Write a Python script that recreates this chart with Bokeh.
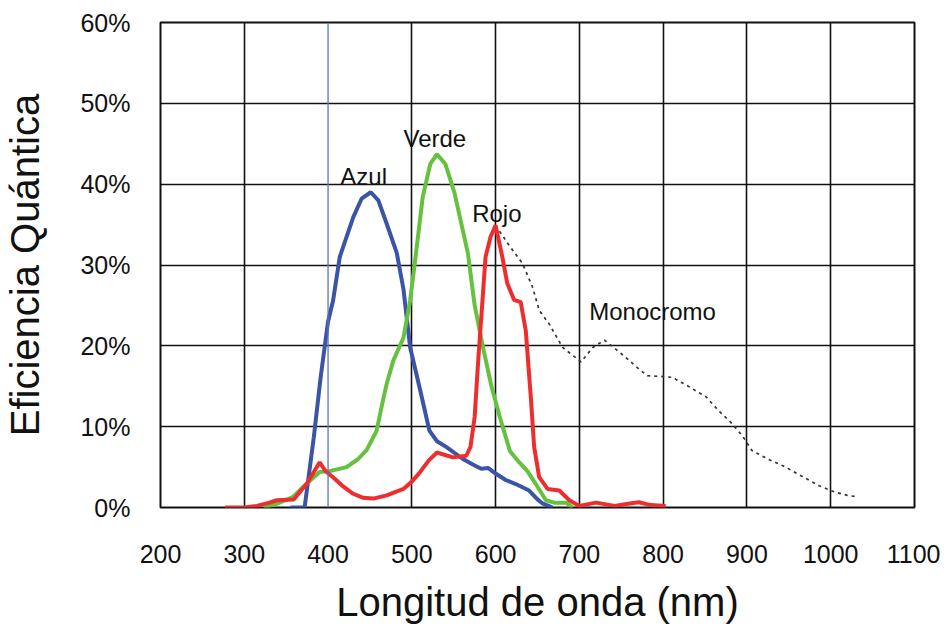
from bokeh.plotting import figure
from bokeh.models import FixedTicker, NumeralTickFormatter, Span, Label
from bokeh.embed import file_html
from bokeh.resources import INLINE

# Data (wavelength nm, quantum efficiency %)
azul_nm = [355, 372, 383, 391, 400, 406, 414, 430, 440, 451, 460, 470, 482, 490, 498, 510, 521, 530, 541, 561, 575, 583, 591, 600, 612, 624, 640, 650, 656, 668]
azul_qe = [0, 0, 8.7, 16, 23, 25.6, 31, 35.9, 38.2, 39, 38, 35.1, 31.5, 27, 19.8, 14.5, 9.5, 8.2, 7.5, 6, 5.2, 4.8, 4.9, 4.2, 3.4, 2.9, 2.1, 1.0, 0.5, 0]

verde_nm = [323, 340, 358, 375, 390, 402, 422, 436, 446, 458, 465, 470, 478, 490, 498, 505, 513, 522, 530, 540, 551, 567, 575, 585, 595, 605, 617, 628, 638, 648, 660, 670, 684, 692]
verde_qe = [0, 0.5, 1.3, 3, 4.4, 4.5, 5.0, 6, 7.1, 9.5, 13, 15.3, 18.2, 21, 25.6, 31.5, 38.4, 42.5, 43.7, 42.5, 38.9, 31.4, 25, 19.8, 15, 11.2, 7, 5.6, 4.5, 2.9, 0.9, 0.6, 0.6, 0]

rojo_nm = [277, 300, 315, 330, 339, 359, 375, 390, 397, 406, 418, 430, 442, 454, 470, 490, 500, 510, 520, 530, 549, 565, 570, 575, 579, 588, 594, 600, 608, 614, 622, 630, 636, 642, 646, 652, 662, 676, 688, 700, 720, 742, 760, 771, 785, 803]
rojo_qe = [0, 0, 0.2, 0.6, 0.9, 1.0, 3, 5.6, 4.5, 3.75, 2.6, 1.7, 1.2, 1.1, 1.5, 2.3, 3.2, 4.4, 5.8, 6.8, 6.2, 6.4, 7.5, 11.2, 17.8, 31, 33.5, 34.9, 31, 27.7, 25.7, 25.4, 21.9, 13.7, 7.5, 3.75, 2.3, 2.1, 0.9, 0.2, 0.6, 0.2, 0.5, 0.65, 0.3, 0.2]

mono_nm = [600, 615, 632, 644, 652, 664, 680, 690, 702, 716, 730, 742, 755, 768, 781, 800, 811, 830, 851, 866, 882, 895, 906, 925, 946, 965, 986, 1005, 1020, 1033]
mono_qe = [34.9, 32.6, 30.2, 27.3, 24.4, 22.7, 19.8, 19.0, 18, 19.8, 20.7, 19.7, 18.6, 17.4, 16.3, 16.2, 16.1, 15, 13.7, 12, 10.4, 8.8, 7.05, 6, 5, 3.9, 2.7, 1.9, 1.5, 1.3]

x_ticks = [200, 300, 400, 500, 600, 700, 800, 900, 1000, 1100]
y_ticks = [0, 0.1, 0.2, 0.3, 0.4, 0.5, 0.6]

FONT = "Liberation Sans"

p = figure(width=940, height=626, x_range=(200, 1100), y_range=(0, 0.6),
           output_backend="svg", toolbar_location=None,
           min_border_left=157, min_border_right=26, min_border_top=22, min_border_bottom=119)

p.background_fill_color = "white"
p.border_fill_color = "white"
p.outline_line_color = "#111111"
p.outline_line_width = 2

p.xaxis.ticker = FixedTicker(ticks=x_ticks)
p.yaxis.ticker = FixedTicker(ticks=y_ticks)
p.yaxis.formatter = NumeralTickFormatter(format="0%")

for ax in (p.xaxis[0], p.yaxis[0]):
    ax.axis_line_color = None
    ax.major_tick_line_color = None
    ax.minor_tick_line_color = None
    ax.major_label_text_font = FONT
    ax.major_label_text_font_size = "25px"
    ax.major_label_text_color = "#111111"
    ax.axis_label_text_font = FONT
    ax.axis_label_text_font_style = "normal"
    ax.axis_label_text_color = "#111111"

p.xaxis.major_label_standoff = 31
p.xaxis.axis_label = "Longitud de onda (nm)"
p.xaxis.axis_label_text_font_size = "40px"
p.xaxis.axis_label_standoff = 14

p.yaxis.major_label_standoff = 24
p.yaxis.axis_label = "Eficiencia Quántica"
p.yaxis.axis_label_text_font_size = "40px"
p.yaxis.axis_label_standoff = 30

p.xgrid.ticker = FixedTicker(ticks=[t for t in x_ticks if t != 400])
p.ygrid.ticker = FixedTicker(ticks=y_ticks)
p.xgrid.grid_line_color = "#111111"
p.ygrid.grid_line_color = "#111111"
p.xgrid.grid_line_width = 1.6
p.ygrid.grid_line_width = 1.6

p.add_layout(Span(location=400, dimension="height", line_color="#5a74c4", line_width=1.3))

def pct(v):
    return [q / 100.0 for q in v]

p.line(mono_nm, pct(mono_qe), line_color="#333333", line_width=1.7, line_dash="3 4")
p.line(azul_nm, pct(azul_qe), line_color="#3b54a6", line_width=4)
p.line(verde_nm, pct(verde_qe), line_color="#66c13e", line_width=4)
p.line(rojo_nm, pct(rojo_qe), line_color="#ee2e2e", line_width=4)

for txt, x, y in [("Azul", 414.6, 0.409), ("Verde", 490, 0.457), ("Rojo", 572, 0.364), ("Monocromo", 711.7, 0.243)]:
    p.add_layout(Label(x=x, y=y, text=txt, text_font=FONT, text_font_size="24px",
                       text_color="#111111", text_baseline="alphabetic", text_align="left"))

open("out.html", "w").write(file_html(p, INLINE))
